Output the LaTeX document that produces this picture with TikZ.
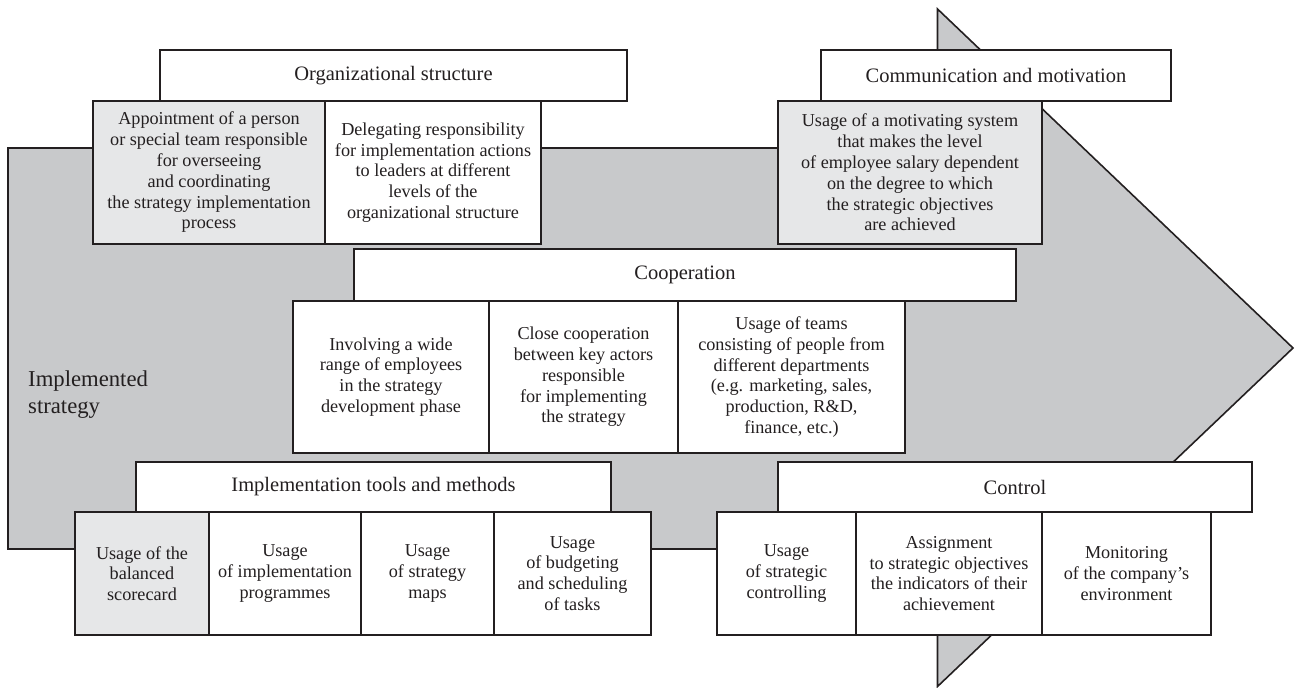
\documentclass[tikz,border=0pt]{standalone}
\usepackage{fontspec}
\setmainfont{Liberation Serif}
\definecolor{arrowgray}{RGB}{200,201,203}
\definecolor{lightbox}{RGB}{230,231,232}
\definecolor{ink}{RGB}{35,31,32}
\tikzset{
  cell/.style={draw=ink, line width=1.8pt, fill=white, align=center, inner sep=0pt, text=ink,
    font=\fontsize{18.2}{20.8}\selectfont},
  shaded/.style={fill=lightbox},
  head/.style={cell, font=\fontsize{20.5}{22}\selectfont},
  bigarrow/.style={draw=ink, line width=1.6pt, fill=arrowgray, line join=miter}
}
\begin{document}
\begin{tikzpicture}[x=1pt,y=1pt]
\useasboundingbox (0,0) rectangle (1296,-688);
% big arrow
\draw[bigarrow] (8,-148) -- (937.5,-148) -- (937.5,-9) -- (1293,-348) -- (937.5,-686.5) -- (937.5,-549) -- (8,-549) -- cycle;
\node[anchor=base west, align=left, text=ink, inner sep=0pt,
  font=\fontsize{22.7}{26.7}\selectfont] (impl) at (28,-413.3) {Implemented\\strategy};

% Organizational structure
\node[head, minimum width=467pt, minimum height=51pt] (orgH) at (393.5,-75.5) {Organizational structure};
\node[cell, shaded, minimum width=232pt, minimum height=143pt] (org1) at (209,-172.5)
  {Appointment of a person\\or special team responsible\\for overseeing\\and coordinating\\the strategy implementation\\process};
\node[cell, minimum width=216pt, minimum height=143pt] (org2) at (433,-172.5)
  {Delegating responsibility\\for implementation actions\\to leaders at different\\levels of the\\organizational structure};

% Communication and motivation
\node[head, minimum width=350pt, minimum height=51pt] (comH) at (996,-75.5) {Communication and motivation};
\node[cell, shaded, minimum width=264pt, minimum height=143pt] (com1) at (910,-172.5)
  {Usage of a motivating system\\that makes the level\\of employee salary dependent\\on the degree to which\\the strategic objectives\\are achieved};

% Cooperation
\node[head, minimum width=662pt, minimum height=52pt] (coopH) at (685,-275) {Cooperation};
\node[cell, minimum width=196pt, minimum height=152pt] (coop1) at (391,-377)
  {Involving a wide\\range of employees\\in the strategy\\development phase};
\node[cell, minimum width=189pt, minimum height=152pt] (coop2) at (583.5,-377)
  {Close cooperation\\between key actors\\responsible\\for implementing\\the strategy};
\node[cell, minimum width=227pt, minimum height=152pt] (coop3) at (791.5,-377)
  {Usage of teams\\consisting of people from\\different departments\\(e.g. marketing, sales,\\production, R\&D,\\finance, etc.)};

% Implementation tools and methods
\node[head, minimum width=475pt, minimum height=50pt] (toolH) at (373.5,-487) {Implementation tools and methods};
\node[cell, shaded, minimum width=134pt, minimum height=123pt] (tool1) at (142,-573.5)
  {Usage of the\\balanced\\scorecard};
\node[cell, minimum width=152pt, minimum height=123pt] (tool2) at (285,-573.5)
  {Usage\\of implementation\\programmes};
\node[cell, minimum width=133pt, minimum height=123pt] (tool3) at (427.5,-573.5)
  {Usage\\of strategy\\maps};
\node[cell, minimum width=157pt, minimum height=123pt] (tool4) at (572.5,-573.5)
  {Usage\\of budgeting\\and scheduling\\of tasks};

% Control
\node[head, minimum width=474pt, minimum height=50pt] (ctrlH) at (1015,-487) {Control};
\node[cell, minimum width=139pt, minimum height=123pt] (ctrl1) at (786.5,-573.5)
  {Usage\\of strategic\\controlling};
\node[cell, minimum width=186pt, minimum height=123pt] (ctrl2) at (949,-573.5)
  {Assignment\\to strategic objectives\\the indicators of their\\achievement};
\node[cell, minimum width=169pt, minimum height=123pt] (ctrl3) at (1126.5,-573.5)
  {Monitoring\\of the company’s\\environment};
\end{tikzpicture}
\end{document}
